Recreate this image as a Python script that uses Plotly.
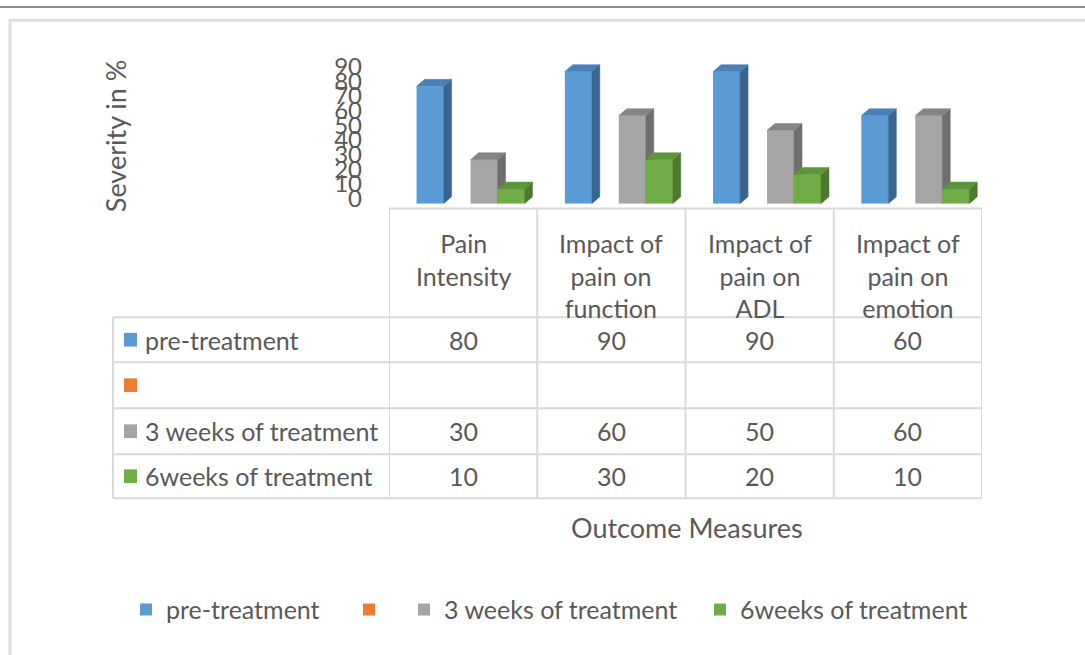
import plotly.graph_objects as go

# ---------------- data ----------------
categories = ["Pain Intensity", "Impact of pain on function",
              "Impact of pain on ADL", "Impact of pain on emotion"]
category_labels = ["Pain<br>Intensity", "Impact of<br>pain on<br>function",
                   "Impact of<br>pain on<br>ADL", "Impact of<br>pain on<br>emotion"]
series_names = ["pre-treatment", "", "3 weeks of treatment", "6weeks of treatment"]
pre_treatment = [80, 90, 90, 60]
empty_series = [None, None, None, None]
weeks_3 = [30, 60, 50, 60]
weeks_6 = [10, 30, 20, 10]
y_tick_values = [0, 10, 20, 30, 40, 50, 60, 70, 80, 90]
y_title = "Severity in %"
x_title = "Outcome Measures"

# ---------------- styling ----------------
W, H = 1085, 655
FONT = "Lato"
TXT = "#595959"
GRID = "#D9D9D9"
front = ["#5B9BD5", "#ED7D31", "#A5A5A5", "#70AD47"]
side = ["#386591", "#B05A20", "#6E6E6E", "#4A7A2E"]
topc = ["#4A80B6", "#C96A28", "#858585", "#5E953B"]
bar_w = 0.182
offsets = [-0.314, -0.132, 0.05, 0.232]
dx, dy = 0.054, 4.7
FS = 25


def fx(p):
    return p / W


def fy(p):
    return 1 - p / H


series_values = [pre_treatment, empty_series, weeks_3, weeks_6]
idx = list(range(len(categories)))
axes_for = [("x", "y"), ("x", "y"), ("x2", "y2"), ("x3", "y3")]
legends = ["legend", "legend2", "legend3", "legend4"]

fig = go.Figure()
for s, vals in enumerate(series_values):
    xa, ya = axes_for[s]
    fig.add_trace(go.Bar(
        x=idx, y=vals, width=bar_w, offset=offsets[s],
        marker=dict(color=front[s], line=dict(width=0)),
        name=series_names[s], legend=legends[s],
        xaxis=xa, yaxis=ya, hovertext=categories, hoverinfo="text+y"))
    sx, sy, tx, ty = [], [], [], []
    for i, v in zip(idx, vals):
        if v is None:
            continue
        left = i + offsets[s]
        right = left + bar_w
        sx += [right, right + dx, right + dx, right, right, None]
        sy += [0, dy, v + dy, v, 0, None]
        tx += [left, left + dx, right + dx, right, left, None]
        ty += [v, v + dy, v + dy, v, v, None]
    if sx:
        fig.add_trace(go.Scatter(x=sx, y=sy, fill="toself", fillcolor=side[s],
                                 mode="lines", line=dict(width=0.5, color=side[s]),
                                 showlegend=False, hoverinfo="skip",
                                 xaxis=xa, yaxis=ya))
        fig.add_trace(go.Scatter(x=tx, y=ty, fill="toself", fillcolor=topc[s],
                                 mode="lines", line=dict(width=0.5, color=topc[s]),
                                 showlegend=False, hoverinfo="skip",
                                 xaxis=xa, yaxis=ya))

xdom = [fx(389), fx(982)]
ydom = [fy(202), fy(52)]
xr = [-0.5, len(categories) - 0.5]
yr = [0, 100]

hidden_x = dict(range=xr, visible=False, fixedrange=True)
hidden_y = dict(range=yr, visible=False, fixedrange=True)

fig.update_layout(
    autosize=True,
    margin=dict(l=0, r=0, t=0, b=0),
    paper_bgcolor="white", plot_bgcolor="rgba(0,0,0,0)",
    font=dict(family=FONT, color=TXT, size=FS),
    barmode="overlay",
    xaxis=dict(domain=xdom, range=xr, visible=False, fixedrange=True),
    yaxis=dict(domain=ydom, range=yr, tickvals=y_tick_values,
               tickfont=dict(family=FONT, size=24, color=TXT),
               showgrid=False, zeroline=False, showline=False, ticks="",
               ticklabelstandoff=26, ticklabelshift=-5, fixedrange=True),
    xaxis2=dict(overlaying="x", **hidden_x),
    yaxis2=dict(overlaying="y", **hidden_y),
    xaxis3=dict(overlaying="x", **hidden_x),
    yaxis3=dict(overlaying="y", **hidden_y),
)

# legends (one per series to place them like the original)
legend_x = [126, 349, 404, 700]
for k, name in enumerate(legends):
    fig.update_layout({name: dict(x=fx(legend_x[k]), y=fy(617), xanchor="left",
                                  yanchor="middle", orientation="h",
                                  bgcolor="rgba(0,0,0,0)", borderwidth=0,
                                  font=dict(family=FONT, size=FS, color=TXT))})

shapes = []
# top dark page line and light frame
shapes.append(dict(type="line", xref="paper", yref="paper", x0=0, x1=1,
                   y0=fy(1), y1=fy(1), line=dict(color="#8C8C8C", width=2)))
shapes.append(dict(type="rect", xref="paper", yref="paper", x0=fx(10), x1=fx(1100),
                   y0=fy(670), y1=fy(14.5), line=dict(color="#DEDEDE", width=3)))
# data table grid
row_lines = [318, 364, 411, 458, 503]
shapes.append(dict(type="line", xref="x", yref="paper", x0=xr[0], x1=xr[1],
                   y0=fy(207), y1=fy(207), line=dict(color=GRID, width=2)))
for yl in row_lines:
    shapes.append(dict(type="line", xref="paper", yref="paper", x0=fx(113), x1=xdom[1],
                       y0=fy(yl), y1=fy(yl), line=dict(color=GRID, width=2)))
for b in range(len(categories) + 1):
    shapes.append(dict(type="line", xref="x", yref="paper", x0=b - 0.5, x1=b - 0.5,
                       y0=fy(207), y1=fy(503), line=dict(color=GRID, width=2)))
shapes.append(dict(type="line", xref="paper", yref="paper", x0=fx(113), x1=fx(113),
                   y0=fy(318), y1=fy(503), line=dict(color=GRID, width=2)))

annotations = []
# category header cells
for i, lab in enumerate(category_labels):
    annotations.append(dict(x=i, y=fy(225), xref="x", yref="paper", text=lab,
                            showarrow=False, xanchor="center", yanchor="top",
                            font=dict(family=FONT, size=FS, color=TXT)))
# series rows
row_centers = [(row_lines[k] + row_lines[k + 1]) / 2 for k in range(4)]
for s, vals in enumerate(series_values):
    yc = fy(row_centers[s])
    shapes.append(dict(type="rect", xref="paper", yref="paper", x0=fx(124), x1=fx(137),
                       y0=fy(row_centers[s] + 7), y1=fy(row_centers[s] - 7),
                       fillcolor=front[s], line=dict(width=0)))
    annotations.append(dict(x=fx(143), y=yc, xref="paper", yref="paper",
                            text=series_names[s], showarrow=False, xanchor="left",
                            yanchor="middle", font=dict(family=FONT, size=FS, color=TXT)))
    for i, v in enumerate(vals):
        if v is None:
            continue
        annotations.append(dict(x=i, y=yc, xref="x", yref="paper", text=str(v),
                                showarrow=False, xanchor="center", yanchor="middle",
                                font=dict(family=FONT, size=FS, color=TXT)))
# axis titles
annotations.append(dict(x=fx(115), y=fy(133), xref="paper", yref="paper", text=y_title,
                        textangle=-90, showarrow=False, xanchor="center", yanchor="middle",
                        font=dict(family=FONT, size=27, color=TXT)))
annotations.append(dict(x=fx(687), y=fy(533), xref="paper", yref="paper", text=x_title,
                        showarrow=False, xanchor="center", yanchor="middle",
                        font=dict(family=FONT, size=27, color=TXT)))

fig.update_layout(shapes=shapes, annotations=annotations)
fig.write_html("out.html",
               config={"displayModeBar": False, "responsive": True},
               default_width="100vw", default_height="100vh",
               post_script="document.body.style.margin='0';"
                           "document.body.style.overflow='hidden';")
